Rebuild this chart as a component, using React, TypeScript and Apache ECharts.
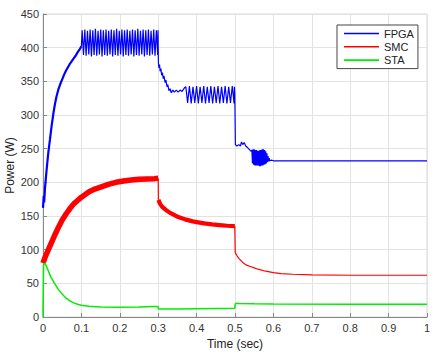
import React, { useEffect, useRef } from "react";
import * as echarts from "echarts";

const xTicks = [0, 0.1, 0.2, 0.3, 0.4, 0.5, 0.6, 0.7, 0.8, 0.9, 1];
const seriesNames = ["FPGA", "SMC", "STA"];

// FPGA: start-up rise
const fpgaRise: number[][] = [
  [0, 162], [0.002, 180], [0.003, 170], [0.005, 190], [0.008, 210], [0.011, 228],
  [0.014, 245], [0.018, 263], [0.022, 282], [0.027, 302], [0.031, 316], [0.035, 327],
  [0.04, 338], [0.045, 346], [0.05, 353], [0.055, 360], [0.06, 366], [0.065, 371],
  [0.07, 376], [0.075, 380], [0.08, 384], [0.085, 388], [0.09, 393], [0.095, 397], [0.1, 402],
];

// FPGA: 0.1 .. 1 s
const fpgaMain: number[][] = [
  [0.1, 402],
  [0.102, 426], [0.10545, 389], [0.1089, 427], [0.11235, 388], [0.1158, 425], [0.11925, 390],
  [0.1227, 427], [0.12615, 387], [0.1296, 426], [0.13305, 389], [0.1365, 428], [0.13995, 388],
  [0.1434, 425], [0.14685, 390], [0.1503, 427], [0.15375, 387], [0.1572, 426], [0.16065, 389],
  [0.1641, 427], [0.16755, 388], [0.171, 425], [0.17445, 390], [0.1779, 427], [0.18135, 387],
  [0.1848, 426], [0.18825, 389], [0.1917, 428], [0.19515, 388], [0.1986, 425], [0.20205, 390],
  [0.2055, 427], [0.20895, 387], [0.2124, 426], [0.21585, 389], [0.2193, 427], [0.22275, 388],
  [0.2262, 425], [0.22965, 390], [0.2331, 427], [0.23655, 387], [0.24, 426], [0.24345, 389],
  [0.2469, 428], [0.25035, 388], [0.2538, 425], [0.25725, 390], [0.2607, 427], [0.26415, 387],
  [0.2676, 426], [0.27105, 389], [0.2745, 427], [0.27795, 388], [0.2814, 425], [0.28485, 390],
  [0.2883, 427], [0.29175, 388], [0.2952, 426], [0.29865, 389], [0.2995, 426],
  [0.3005, 378], [0.302, 370], [0.3035, 375], [0.305, 365], [0.307, 369], [0.309, 359],
  [0.311, 363], [0.313, 354], [0.315, 358], [0.318, 348], [0.32, 352], [0.323, 342],
  [0.325, 345], [0.328, 336], [0.331, 339], [0.334, 333], [0.338, 337], [0.342, 334],
  [0.347, 337], [0.352, 334], [0.357, 337], [0.362, 335], [0.368, 340],
  [0.372, 342], [0.37665, 318], [0.3813, 343], [0.38595, 317], [0.3906, 342], [0.39525, 318],
  [0.3999, 343], [0.40455, 317], [0.4092, 342], [0.41385, 318], [0.4185, 343], [0.42315, 317],
  [0.4278, 342], [0.43245, 318], [0.4371, 343], [0.44175, 317], [0.4464, 342], [0.45105, 318],
  [0.4557, 343], [0.46035, 317], [0.465, 342], [0.46965, 318], [0.4743, 343], [0.47895, 317],
  [0.4836, 342], [0.48825, 318], [0.4929, 343], [0.49755, 317], [0.4985, 342], [0.4995, 332],
  [0.501, 256], [0.505, 254], [0.51, 256], [0.514, 254], [0.517, 260], [0.52, 256],
  [0.524, 259], [0.528, 254], [0.532, 252], [0.537, 249], [0.542, 246],
  [0.544, 248], [0.5455, 228], [0.547, 249], [0.5485, 226], [0.55, 249], [0.5515, 225],
  [0.553, 248], [0.5545, 225], [0.556, 248], [0.5575, 225], [0.559, 247], [0.5605, 225],
  [0.562, 247], [0.5635, 224], [0.565, 248], [0.5665, 224], [0.568, 248], [0.5695, 225],
  [0.571, 249], [0.5725, 225], [0.574, 249], [0.5755, 226], [0.577, 248], [0.5785, 227],
  [0.58, 246], [0.5815, 228], [0.583, 243], [0.5845, 230], [0.586, 239], [0.5875, 231],
  [0.589, 236], [0.5905, 232], [0.595, 233], [0.6, 232], [0.8, 232], [1, 232],
];

// SMC: thick band 0 .. 0.3 s
const smcBand1: number[][] = [
  [0, 80], [0.005, 88], [0.01, 95], [0.02, 108], [0.03, 121], [0.04, 133], [0.05, 144],
  [0.06, 153], [0.07, 161], [0.08, 168], [0.09, 173], [0.1, 178], [0.11, 182], [0.12, 186],
  [0.135, 190], [0.15, 193], [0.17, 197], [0.19, 200], [0.21, 202], [0.23, 203.5],
  [0.25, 204.5], [0.27, 205], [0.29, 205.5], [0.3, 206],
];
const smcDrop1: number[][] = [[0.3, 206], [0.3005, 174]];
// SMC: band 0.3 .. 0.5 s
const smcBand2: number[][] = [
  [0.3005, 174], [0.305, 168], [0.31, 164], [0.32, 159], [0.33, 155], [0.34, 152],
  [0.35, 149], [0.36, 147], [0.37, 145], [0.38, 143.5], [0.39, 142], [0.4, 141],
  [0.42, 139], [0.44, 137.5], [0.46, 136.5], [0.48, 135.5], [0.4995, 135],
];
// SMC: 0.5 .. 1 s
const smcTail: number[][] = [
  [0.4995, 135], [0.5005, 96], [0.505, 91], [0.51, 87], [0.52, 81], [0.53, 77], [0.54, 75],
  [0.55, 73], [0.56, 71], [0.58, 68], [0.6, 66], [0.62, 64.5], [0.65, 63.5], [0.7, 62.5],
  [0.8, 62], [0.9, 62], [1, 62],
];

// STA
const staData: number[][] = [
  [0, 0], [0.001, 0], [0.0015, 78], [0.005, 80], [0.01, 74], [0.015, 67], [0.02, 60],
  [0.03, 50], [0.04, 41], [0.05, 34], [0.06, 28], [0.07, 24], [0.08, 21], [0.09, 19],
  [0.1, 17.5], [0.12, 16], [0.15, 15], [0.2, 14.5], [0.25, 14.8], [0.29, 15.5],
  [0.2995, 15.5], [0.3005, 12], [0.35, 12], [0.4, 12.3], [0.45, 12.6], [0.4995, 13],
  [0.5005, 19], [0.503, 20.5], [0.51, 20], [0.55, 19.5], [0.6, 19.2], [0.8, 19], [1, 19],
];

const BLUE = "#0000ff";
const RED = "#ff0000";
const GREEN = "#00ee00";
const FONT = "'Liberation Sans', Arial, Helvetica, sans-serif";

export default function App() {
  const ref = useRef<HTMLDivElement>(null);
  useEffect(() => {
    if (!ref.current) return;
    const chart = echarts.init(ref.current, null, { renderer: "svg" });
    const line = (name: string, data: number[][], color: string, width: number, z = 2) => ({
      name,
      type: "line",
      data,
      symbol: "none",
      showSymbol: false,
      z,
      itemStyle: { color },
      lineStyle: { color, width },
      emphasis: { disabled: true },
    });
    chart.setOption({
      animation: false,
      textStyle: { fontFamily: FONT },
      grid: {
        left: 43, right: 10, top: 14, bottom: 37,
        outerBoundsMode: "none",
        containLabel: false,
        show: true, borderColor: "#d9d9d9", borderWidth: 1, backgroundColor: "#fff",
      },
      graphic: [
        {
          type: "text",
          x: 10,
          y: 165.5,
          rotation: Math.PI / 2,
          style: {
            text: "Power (W)",
            fontSize: 12,
            fontFamily: FONT,
            fill: "#222",
            align: "center",
            verticalAlign: "middle",
          },
        },
      ],
      legend: {
        data: seriesNames,
        orient: "vertical",
        left: 337,
        top: 25,
        padding: [3, 4, 3, 7],
        itemGap: 2.3,
        itemWidth: 35,
        itemHeight: 1.6,
        icon: "rect",
        itemTextGap: 4,
        borderColor: "#444",
        borderWidth: 1,
        backgroundColor: "#fff",
        textStyle: { fontSize: 11, color: "#222", fontFamily: FONT },
      },
      xAxis: {
        type: "value",
        min: 0,
        max: 1,
        interval: 0.1,
        name: "Time (sec)",
        nameLocation: "middle",
        nameGap: 20,
        nameTextStyle: { fontSize: 12, color: "#222", fontFamily: FONT },
        axisLine: { lineStyle: { color: "#888" } },
        axisTick: { inside: true, length: 4, lineStyle: { color: "#888" } },
        axisLabel: {
          fontSize: 11, color: "#333", margin: 5, fontFamily: FONT,
          formatter: (v: number) => {
            const r = Math.round(v * 10) / 10;
            return xTicks.includes(r) ? String(r) : "";
          },
        },
        splitLine: { show: true, lineStyle: { color: "#e3e3e3" } },
      },
      yAxis: {
        type: "value",
        min: 0,
        max: 450,
        interval: 50,
        axisLine: { show: true, lineStyle: { color: "#888" } },
        axisTick: { show: true, inside: true, length: 4, lineStyle: { color: "#888" } },
        axisLabel: { fontSize: 11, color: "#333", margin: 4, fontFamily: FONT },
        splitLine: { show: true, lineStyle: { color: "#e3e3e3" } },
      },
      series: [
        line("FPGA", fpgaRise, BLUE, 2.2, 3),
        line("FPGA", fpgaMain, BLUE, 1.2, 3),
        line("SMC", smcBand1, RED, 5.5, 4),
        line("SMC", smcDrop1, RED, 1.2, 4),
        line("SMC", smcBand2, RED, 4.2, 4),
        line("SMC", smcTail, RED, 1.2, 4),
        line("STA", staData, GREEN, 1.5, 5),
      ],
    });
    return () => chart.dispose();
  }, []);
  return (
    <div
      ref={ref}
      style={{ position: "fixed", left: 0, top: 0, width: 437, height: 354, background: "#fff" }}
    />
  );
}
